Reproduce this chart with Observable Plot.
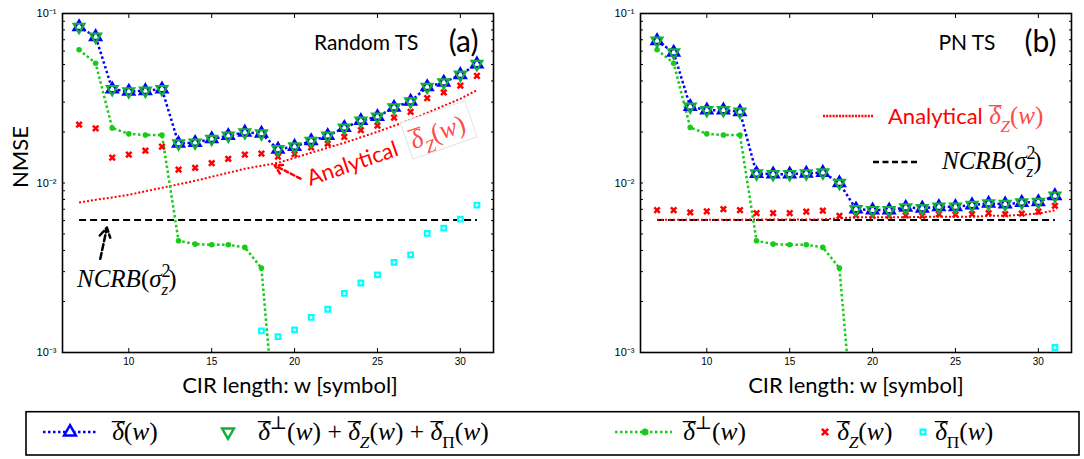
<!DOCTYPE html>
<html><head><meta charset="utf-8">
<script src="https://cdn.jsdelivr.net/npm/d3@7"></script>
<script src="https://cdn.jsdelivr.net/npm/@observablehq/plot@0.6"></script>
<style>
body{margin:0;background:#fff;}
#wrap{position:relative;width:1084px;height:459px;overflow:hidden;background:#fff;}
#pa{position:absolute;left:0;top:0;}
#pb{position:absolute;left:540px;top:0;}
#lg{position:absolute;left:0;top:409px;}
text{white-space:pre;}
</style></head><body>
<div id="wrap"><div id="pa"></div><div id="pb"></div><div id="lg"></div></div>
<script>
// ---------- data ----------
const wAll  = [7,8,9,10,11,12,13,14,15,16,17,18,19,20,21,22,23,24,25,26,27,28,29,30,31];
const wPerp = [7,8,9,10,11,12,13,14,15,16,17,18,19];
const wPiA  = [18,19,20,21,22,23,24,25,26,27,28,29,30,31];
const wPiB  = [31];
const xTicks = [10,15,20,25,30];
const yTicks = [0.001,0.01,0.1];
const yTickLabels = ["10\u207B\u00B3","10\u207B\u00B2","10\u207B\u00B9"];
const yMinor = [0.002,0.003,0.004,0.005,0.006,0.007,0.008,0.009,0.02,0.03,0.04,0.05,0.06,0.07,0.08,0.09];
const ncrb = 0.00604;

// panel (a) Random TS
const deltaA = [0.0834,0.0729,0.0358,0.0347,0.0350,0.0358,0.0171,0.0173,0.0182,0.0190,0.0199,0.0196,0.0158,0.0164,0.0177,0.0190,0.0212,0.0233,0.0246,0.0279,0.0303,0.0369,0.0392,0.0435,0.0503];
const sumA   = [0.0834,0.0729,0.0358,0.0347,0.0350,0.0358,0.0171,0.0173,0.0182,0.0190,0.0199,0.0196,0.0158,0.0164,0.0177,0.0190,0.0212,0.0233,0.0246,0.0279,0.0303,0.0369,0.0392,0.0435,0.0503];
const perpA  = [0.0611,0.0509,0.0211,0.0195,0.0192,0.0192,0.00456,0.00436,0.00432,0.00432,0.00417,0.00315,0.00024];
const zA     = [0.0221,0.0210,0.0141,0.0147,0.0155,0.0164,0.0120,0.0123,0.0131,0.0139,0.0147,0.0149,0.0143,0.0148,0.0162,0.0171,0.0187,0.0205,0.0218,0.0243,0.0263,0.0317,0.0342,0.0375,0.0429];
const anaA   = [0.00767,0.00796,0.00822,0.00852,0.00894,0.00937,0.00982,0.0103,0.01088,0.01149,0.01213,0.01264,0.01316,0.01408,0.01508,0.01614,0.01726,0.01861,0.02005,0.02175,0.0236,0.02594,0.02854,0.0314,0.0353];
const piA    = [0.00134,0.00124,0.00136,0.00161,0.0018,0.00223,0.00257,0.00287,0.0034,0.00377,0.00504,0.00542,0.00612,0.00741];

// panel (b) PN TS
const deltaB = [0.0690,0.0589,0.0282,0.0269,0.0269,0.0263,0.01137,0.01128,0.01128,0.0114,0.01153,0.0100,0.00701,0.00692,0.00692,0.00717,0.00709,0.00724,0.00724,0.00741,0.00757,0.00751,0.00767,0.00773,0.0084];
const sumB   = [0.0690,0.0589,0.0282,0.0269,0.0269,0.0263,0.01137,0.01128,0.01128,0.0114,0.01153,0.0100,0.00701,0.00692,0.00692,0.00717,0.00709,0.00724,0.00724,0.00741,0.00757,0.00751,0.00767,0.00773,0.0084];
const perpB  = [0.0611,0.0509,0.02125,0.0195,0.0192,0.0192,0.00456,0.00436,0.00432,0.00432,0.00417,0.00315,0.00024];
const zB     = [0.00692,0.00692,0.0067,0.0068,0.00701,0.00692,0.00664,0.00664,0.00664,0.00677,0.00686,0.0064,0.00645,0.0064,0.0064,0.00645,0.0064,0.00655,0.0065,0.00655,0.00664,0.00655,0.0066,0.00677,0.00734];
const anaB   = [0.00607,0.00607,0.00607,0.00607,0.00607,0.00607,0.0061,0.0061,0.0061,0.0061,0.0061,0.0062,0.00627,0.00627,0.00627,0.00627,0.00632,0.00632,0.00632,0.00632,0.0064,0.0064,0.0065,0.0066,0.0069];
const piB    = [0.00107];

// ---------- styles ----------
const C = {blue:"#0000ff", green:"#16ad3c", gl:"#16cc16", red:"#ff0000", cyan:"#00ffff", math:"#ff4a4a"};
const SANS = "Lato, 'Open Sans', sans-serif";
const SERIF = "'Liberation Serif', 'DejaVu Serif', serif";

function rows(xs, ys){ return xs.map((x,i)=>({w:x, v:ys[i]})); }

// rich text: kinds "" normal, "i" italic, "bar" barred italic delta, "sub"/"subi", "sup", "subxi" (sub pulled back under a sup)
function rich(text, segs, base){
  text.attr("text-anchor","start");
  let cur = 0, pend = 0;
  segs.forEach(([s,k])=>{
    let target = 0, size = base;
    if (k.startsWith("sub")) { target = base*0.32; size = base*0.68; }
    else if (k.startsWith("sup")) { target = -base*0.42; size = base*0.72; }
    const ts = text.append("tspan").text(k==="bar" ? "\u03B4" : s);
    if (target !== cur) { ts.attr("dy", target-cur); cur = target; }
    if (size !== base) ts.attr("font-size", size);
    if (k.endsWith("i") || k==="bar") ts.attr("font-style","italic");
    let dx = pend; pend = 0;
    if (k.includes("x")) dx += -base*0.36;
    if (dx) ts.attr("dx", dx);
    if (k==="bar") {
      text.append("tspan").text("\u00AF").attr("dx", -base*0.47);
      pend = -base*0.04;
    }
  });
}
const DB = "\u03B4";
const segDZ = [[DB,"bar"],["Z","subi"],["(",""],["w","i"],[")",""]];
const segNCRB = [["NCRB","i"],["(",""],["\u03C3","i"],["2","sup"],["z","subxi"],[")",""]];

function makePanel(o){
  const D = rows(wAll,o.delta), S = rows(wAll,o.sum), P = rows(wPerp,o.perp),
        Z = rows(wAll,o.z), A = rows(wAll,o.ana), PI = rows(o.wPi,o.pi),
        N = rows(wAll, wAll.map(()=>ncrb));
  const marks = [
    Plot.line(N,{x:"w",y:"v",stroke:"#000",strokeWidth:2,strokeDasharray:"7,4",strokeLinecap:"butt"}),
    Plot.line(A,{x:"w",y:"v",stroke:C.red,strokeWidth:2,strokeDasharray:"2,2",strokeLinecap:"butt"}),
    Plot.line(P,{x:"w",y:"v",stroke:C.gl,strokeWidth:2.5,strokeDasharray:"2.5,2.5",strokeLinecap:"butt",clip:true}),
    Plot.line(D,{x:"w",y:"v",stroke:C.blue,strokeWidth:2.5,strokeDasharray:"2.5,2.5",strokeLinecap:"butt"}),
    Plot.dot(Z,{x:"w",y:"v",symbol:"times",r:2.6,stroke:C.red,strokeWidth:2.5}),
    Plot.dot(PI,{x:"w",y:"v",symbol:"square",r:2.6,stroke:C.cyan,strokeWidth:2.2,fill:"#fff"}),
    Plot.dot(P,{x:"w",y:"v",symbol:"circle",r:2.8,fill:C.gl,stroke:null,clip:true}),
    Plot.dot(D,{x:"w",y:"v",symbol:"triangle",r:4,stroke:C.blue,strokeWidth:2.5,fill:"#fff"}),
    Plot.dot(S,{x:"w",y:"v",symbol:"triangle",rotate:180,r:4,stroke:C.green,strokeWidth:2.2,fill:"none"}),
    Plot.frame({stroke:"#000",strokeWidth:1.6}),
    Plot.axisX({anchor:"bottom",ticks:xTicks,tickSize:0,tickPadding:5,label:null,fontSize:10}),
    Plot.axisX({anchor:"bottom",ticks:xTicks,tickSize:-4,tickFormat:()=>"",label:null}),
    Plot.axisX({anchor:"top",ticks:xTicks,tickSize:-4,tickFormat:()=>"",label:null}),
    Plot.axisY({anchor:"left",ticks:yTicks,tickSize:0,tickPadding:6,tickFormat:d=>yTickLabels[yTicks.indexOf(d)],label:null,fontSize:11}),
    Plot.axisY({anchor:"left",ticks:yTicks.concat(yMinor),tickSize:-3,tickFormat:()=>"",label:null}),
    Plot.axisY({anchor:"right",ticks:yTicks.concat(yMinor),tickSize:-3,tickFormat:()=>"",label:null}),
    Plot.text([o.title],{frameAnchor:"top-right",dx:o.tdx,dy:30,textAnchor:"end",lineAnchor:"middle",fontSize:21,fontFamily:SANS}),
    Plot.text([o.tag],{frameAnchor:"top-right",dx:-15,dy:29,textAnchor:"end",lineAnchor:"middle",fontSize:30,fontFamily:SANS}),
    Plot.text(["CIR length: w [symbol]"],{frameAnchor:"bottom",dx:o.ldx,dy:33,lineAnchor:"middle",fontSize:22,fontFamily:SANS}),
    ...(o.extra||[])
  ];
  return Plot.plot({
    width:o.width, height:400, marginLeft:o.ml, marginRight:o.mr, marginTop:13, marginBottom:48,
    x:{domain:[6,32]}, y:{type:"log", domain:[1e-3,1e-1]},
    style:{fontFamily:"'Liberation Sans', Arial, sans-serif", fontSize:"10px", color:"#000", background:"transparent"},
    marks
  });
}

const plotA = makePanel({delta:deltaA,sum:sumA,perp:perpA,z:zA,ana:anaA,wPi:wPiA,pi:piA,
  width:540, ml:62, mr:47, title:"Random TS", tdx:-75, tag:"(a)", ldx:12,
  extra:[
    Plot.text(["NMSE"],{frameAnchor:"left",dx:-42,dy:5,rotate:-90,fontSize:22,fontFamily:SANS}),
    Plot.arrow([{x1:20.36,y1:0.0106,x2:18.8,y2:0.0127}],{x1:"x1",y1:"y1",x2:"x2",y2:"y2",stroke:C.red,strokeWidth:2.5,strokeDasharray:"4,3",headLength:12}),
    Plot.arrow([{x1:8.28,y1:0.00357,x2:8.68,y2:0.00546}],{x1:"x1",y1:"y1",x2:"x2",y2:"y2",stroke:"#000",strokeWidth:2.5,strokeDasharray:"6,3",headLength:12})
  ]});
document.getElementById("pa").append(plotA);

const plotB = makePanel({delta:deltaB,sum:sumB,perp:perpB,z:zB,ana:anaB,wPi:wPiB,pi:piB,
  width:544, ml:100, mr:13, title:"PN TS", tdx:-76, tag:"(b)", ldx:0});
document.getElementById("pb").append(plotB);

// ---------- annotations ----------
{
  const s = d3.select(plotA);
  const g = s.append("g").attr("transform","translate(310,186) rotate(-19)");
  g.append("text").attr("text-anchor","start").attr("font-family",SANS).attr("font-size",22).attr("fill",C.red).text("Analytical");
  g.append("rect").attr("x",106).attr("y",-30).attr("width",68).attr("height",38).attr("fill","#fff").attr("stroke","#e4e4e4");
  const t = g.append("text").attr("x",110).attr("y",-1).attr("font-family",SERIF).attr("font-size",26).attr("fill",C.math);
  rich(t, segDZ, 26);
  const t2 = s.append("text").attr("x",77).attr("y",287).attr("font-family",SERIF).attr("font-size",25).attr("fill","#000");
  rich(t2, segNCRB, 25);
}
{
  const s = d3.select(plotB);
  s.append("line").attr("x1",283).attr("x2",333).attr("y1",116).attr("y2",116).attr("stroke",C.red).attr("stroke-width",2.5).attr("stroke-dasharray","2,1.2");
  s.append("text").attr("text-anchor","start").attr("x",348).attr("y",124).attr("font-family",SANS).attr("font-size",22).attr("fill",C.red).text("Analytical");
  const t = s.append("text").attr("x",449).attr("y",124).attr("font-family",SERIF).attr("font-size",25).attr("fill",C.math);
  rich(t, segDZ, 25);
  s.append("line").attr("x1",333).attr("x2",377).attr("y1",162).attr("y2",162).attr("stroke","#000").attr("stroke-width",2.5).attr("stroke-dasharray","6,3.5");
  const t2 = s.append("text").attr("x",402).attr("y",169).attr("font-family",SERIF).attr("font-size",25).attr("fill","#000");
  rich(t2, segNCRB, 25);
}

// ---------- legend ----------
{
  const L = d3.select("#lg").append("svg").attr("width",1084).attr("height",50);
  L.append("rect").attr("x",26).attr("y",2.7).attr("width",1053).attr("height",43.3).attr("fill","#fff").attr("stroke","#000").attr("stroke-width",1.6);
  const cy = 23;
  const lab = (x, segs) => { const t = L.append("text").attr("x",x).attr("y",cy+8).attr("font-family",SERIF).attr("font-size",25.5).attr("fill","#000"); rich(t, segs, 25.5); };
  // 1
  L.append("line").attr("x1",43).attr("x2",97).attr("y1",cy).attr("y2",cy).attr("stroke",C.blue).attr("stroke-width",2.5).attr("stroke-dasharray","2.5,2.5");
  L.append("path").attr("d",d3.symbol(d3.symbolTriangle,60)()).attr("transform",`translate(70,${cy})`).attr("fill","#fff").attr("stroke",C.blue).attr("stroke-width",2.5);
  lab(112, [[DB,"bar"],["(",""],["w","i"],[")",""]]);
  // 2
  L.append("path").attr("d",d3.symbol(d3.symbolTriangle,60)()).attr("transform",`translate(228,${cy}) rotate(180)`).attr("fill","none").attr("stroke",C.green).attr("stroke-width",2.5);
  lab(258, [[DB,"bar"],["\u22A5","sup"],["(",""],["w","i"],[")",""],[" + ",""],[DB,"bar"],["Z","subi"],["(",""],["w","i"],[")",""],[" + ",""],[DB,"bar"],["\u03A0","sub"],["(",""],["w","i"],[")",""]]);
  // 3
  L.append("line").attr("x1",615).attr("x2",672).attr("y1",cy).attr("y2",cy).attr("stroke",C.gl).attr("stroke-width",2.5).attr("stroke-dasharray","2.5,2.5");
  L.append("circle").attr("cx",645).attr("cy",cy).attr("r",3.5).attr("fill",C.gl);
  lab(683, [[DB,"bar"],["\u22A5","sup"],["(",""],["w","i"],[")",""]]);
  // 4
  L.append("path").attr("d",d3.symbol(d3.symbolTimes,28)()).attr("transform",`translate(825,${cy})`).attr("stroke",C.red).attr("stroke-width",2.5);
  lab(837, segDZ);
  // 5
  L.append("path").attr("d",d3.symbol(d3.symbolSquare,24)()).attr("transform",`translate(923,${cy})`).attr("fill","#fff").attr("stroke",C.cyan).attr("stroke-width",2.2);
  lab(935, [[DB,"bar"],["\u03A0","sub"],["(",""],["w","i"],[")",""]]);
}
</script>
</body></html>
